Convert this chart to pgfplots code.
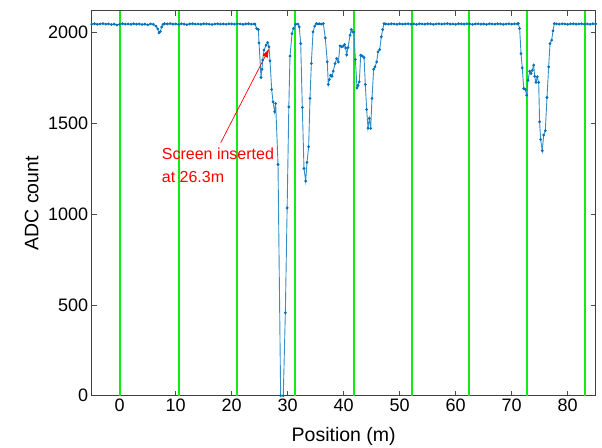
\documentclass[border=0pt]{standalone}
\usepackage{fontspec}
\setmainfont{Liberation Sans}
\usepackage{pgfplots}
\pgfplotsset{compat=1.18}
\usetikzlibrary{arrows.meta}

\definecolor{trace}{RGB}{0,114,189}
\definecolor{screenline}{RGB}{20,235,20}
\definecolor{note}{RGB}{255,0,0}

\begin{document}
\begin{tikzpicture}
\useasboundingbox (0,0) rectangle (602pt,447pt);
\begin{axis}[
  at={(91.7pt,51.3pt)}, anchor=south west,
  scale only axis, width=504pt, height=385pt,
  xmin=-5, xmax=85, ymin=0, ymax=2120,
  xtick={0,10,...,80}, ytick={0,500,...,2000},
  tick align=inside, major tick length=5pt,
  axis line style={black!75, line width=0.7pt},
  tick style={black!70, line width=0.6pt},
  ticklabel style={font=\fontsize{18}{20}\selectfont},
  /pgf/number format/assume math mode=true,
  /pgf/number format/1000 sep={},
  xlabel={Position (m)}, ylabel={ADC count},
  label style={font=\fontsize{19.5}{22}\selectfont},
  xlabel style={at={(axis description cs:0.5,-0.1065)}, anchor=center},
  ylabel style={at={(axis description cs:-0.119,0.5)}, anchor=center},
  screen/.style={color=screenline, line width=1.7pt, forget plot},
]
% screen positions
\addplot[screen] coordinates {(0,0) (0,2120)};
\addplot[screen] coordinates {(10.6,0) (10.6,2120)};
\addplot[screen] coordinates {(20.93,0) (20.93,2120)};
\addplot[screen] coordinates {(31.3,0) (31.3,2120)};
\addplot[screen] coordinates {(41.8,0) (41.8,2120)};
\addplot[screen] coordinates {(52.2,0) (52.2,2120)};
\addplot[screen] coordinates {(62.4,0) (62.4,2120)};
\addplot[screen] coordinates {(72.73,0) (72.73,2120)};
\addplot[screen] coordinates {(83.1,0) (83.1,2120)};
% ADC readout along the line
\addplot[color=trace!80, line width=0.9pt, mark=*, mark size=0.9pt,
  mark options={fill=trace, draw=trace}] table[row sep=\\] {
x y\\
-5.0 2046\\ -4.5 2048\\ -4.0 2045\\ -3.5 2047\\ -3.0 2049\\ -2.5 2046\\ -2.0 2047\\ -1.5 2044\\
-1.0 2046\\ -0.5 2041\\ 0.0 2045\\ 0.5 2048\\ 1.0 2046\\ 1.5 2047\\ 2.0 2045\\ 2.5 2048\\
3.0 2046\\ 3.5 2047\\ 4.0 2044\\ 4.5 2046\\ 5.0 2042\\ 5.5 2047\\ 6.0 2045\\ 6.48 2035\\
6.79 2020\\ 7.02 1998\\ 7.25 2005\\ 7.5 2030\\ 7.73 2045\\ 8.0 2048\\ 8.5 2047\\ 9.0 2049\\
9.5 2046\\ 10.0 2047\\ 10.5 2045\\ 11.0 2048\\ 11.5 2046\\ 12.0 2043\\ 12.5 2047\\ 13.0 2048\\
13.5 2046\\ 14.0 2047\\ 14.5 2045\\ 15.0 2048\\ 15.5 2047\\ 16.0 2046\\ 16.5 2044\\ 17.0 2047\\
17.5 2048\\ 18.0 2046\\ 18.5 2047\\ 19.0 2045\\ 19.5 2048\\ 20.0 2047\\ 20.5 2046\\ 21.0 2048\\
21.5 2047\\ 22.0 2045\\ 22.5 2047\\ 23.0 2048\\ 23.5 2046\\ 24.0 2047\\ 24.16 2046\\
24.46 2022\\ 24.76 2016\\ 24.88 1943\\ 25.23 1752\\ 25.41 1798\\ 25.53 1848\\ 25.77 1903\\
26.13 1930\\ 26.42 1945\\ 26.66 1921\\ 26.84 1844\\ 27.14 1686\\ 27.38 1618\\ 27.67 1563\\
27.85 1609\\ 28.27 1273\\ 28.74 0\\ 29.21 0\\ 29.58 457\\ 29.90 1034\\ 30.20 1590\\
30.41 1870\\ 30.77 1994\\ 31.00 2022\\ 31.42 2046\\ 31.84 2046\\ 32.07 2031\\ 32.32 1939\\
32.61 1587\\ 32.91 1251\\ 33.21 1182\\ 33.45 1285\\ 33.74 1371\\ 33.98 1637\\ 34.22 1829\\
34.52 2003\\ 34.82 2035\\ 35.11 2049\\ 35.40 2047\\ 35.70 2048\\ 36.00 2046\\ 36.36 2049\\
36.71 1970\\ 37.07 1838\\ 37.25 1714\\ 37.43 1741\\ 37.67 1765\\ 37.91 1759\\ 38.14 1787\\
38.45 1829\\ 38.74 1857\\ 39.04 1838\\ 39.34 1926\\ 39.64 1921\\ 39.93 1925\\ 40.17 1934\\
40.35 1915\\ 40.53 1877\\ 40.77 1917\\ 41.13 1985\\ 41.36 2016\\ 41.60 2003\\ 41.84 2002\\
42.08 1851\\ 42.38 1695\\ 42.55 1708\\ 42.79 1728\\ 43.03 1875\\ 43.33 1870\\ 43.63 1862\\
43.86 1714\\ 44.10 1576\\ 44.34 1473\\ 44.58 1527\\ 44.82 1472\\ 45.05 1637\\ 45.35 1798\\
45.59 1811\\ 45.89 1838\\ 46.13 1893\\ 46.42 1906\\ 46.72 1976\\ 46.96 2016\\ 47.20 2049\\
47.5 2047\\ 48.0 2046\\ 48.5 2048\\ 49.0 2047\\ 49.5 2045\\ 50.0 2048\\ 50.5 2046\\ 51.0 2047\\
51.5 2048\\ 52.0 2046\\ 52.5 2047\\ 53.0 2045\\ 53.5 2048\\ 54.0 2047\\ 54.5 2046\\ 55.0 2048\\
55.5 2047\\ 56.0 2045\\ 56.5 2047\\ 57.0 2048\\ 57.5 2046\\ 58.0 2047\\ 58.5 2049\\ 59.0 2046\\
59.5 2047\\ 60.0 2045\\ 60.5 2048\\ 61.0 2047\\ 61.5 2046\\ 62.0 2048\\ 62.5 2047\\ 63.0 2045\\
63.5 2047\\ 64.0 2048\\ 64.5 2046\\ 65.0 2047\\ 65.5 2045\\ 66.0 2048\\ 66.5 2047\\ 67.0 2046\\
67.5 2048\\ 68.0 2047\\ 68.5 2045\\ 69.0 2047\\ 69.5 2048\\ 70.0 2046\\ 70.5 2047\\ 71.00 2048\\
71.18 2049\\ 71.42 2022\\ 71.66 1884\\ 71.89 1805\\ 72.14 1692\\ 72.43 1686\\ 72.67 1655\\
72.91 1737\\ 73.21 1787\\ 73.45 1774\\ 73.68 1792\\ 73.92 1820\\ 74.10 1759\\ 74.34 1726\\
74.57 1756\\ 74.82 1725\\ 74.98 1508\\ 75.17 1411\\ 75.46 1349\\ 75.71 1435\\ 76.00 1459\\
76.30 1642\\ 76.60 1811\\ 76.84 1939\\ 77.14 1958\\ 77.38 2009\\ 77.61 2049\\
78.0 2047\\ 78.5 2046\\ 79.0 2048\\ 79.5 2047\\ 80.0 2045\\ 80.5 2047\\ 81.0 2048\\ 81.5 2046\\
82.0 2047\\ 82.5 2048\\ 83.0 2046\\ 83.5 2047\\ 84.0 2045\\ 84.5 2048\\ 85.0 2047\\
};
% annotation for the screen insertion
\node[note, anchor=north west, inner sep=0pt, align=left,
  font=\fontsize{16}{22.5}\selectfont] at (axis cs:7.5,1365)
  {Screen inserted\\at 26.3m};
\draw[note, line width=0.7pt, -{Latex[length=9pt,width=6pt]}]
  (axis cs:18.04,1393) -- (axis cs:26.7,1912);
\end{axis}
\end{tikzpicture}
\end{document}
